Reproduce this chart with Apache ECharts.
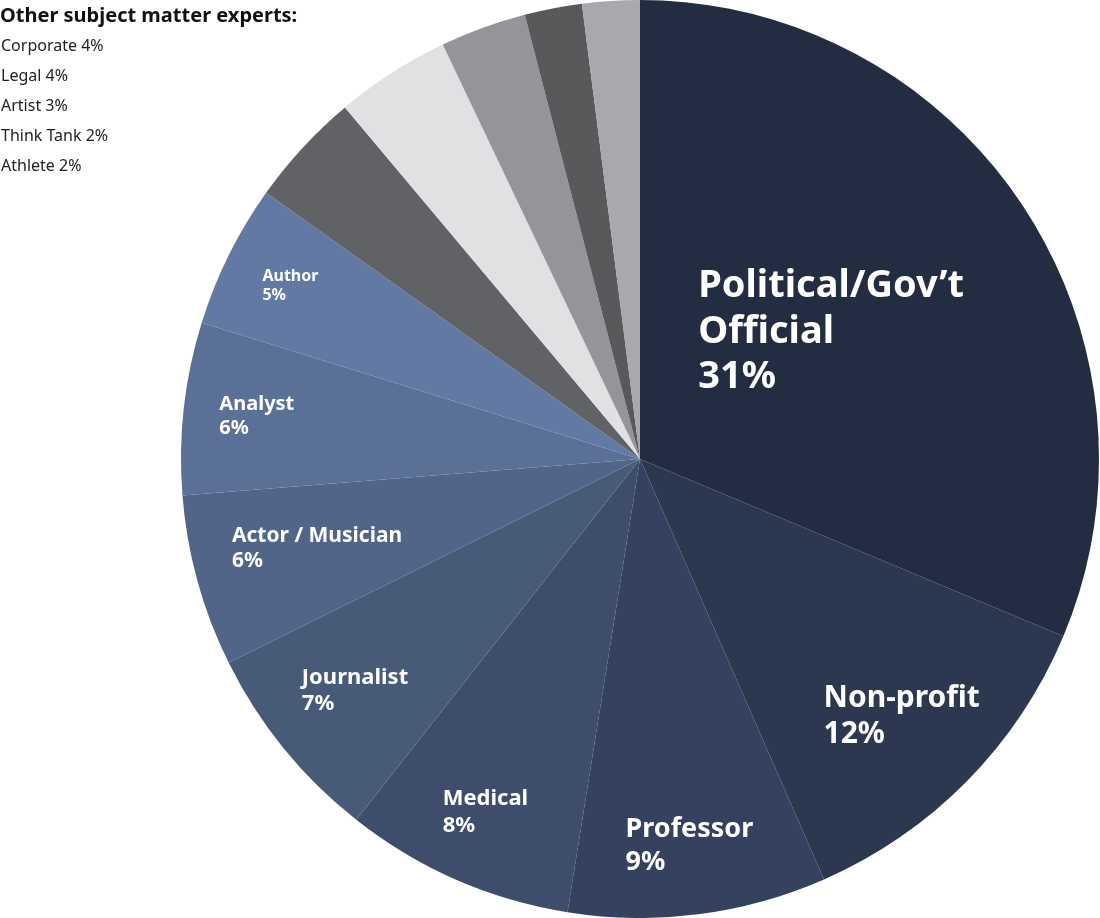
<!DOCTYPE html>
<html><head><meta charset="utf-8">
<script src="https://cdn.jsdelivr.net/npm/echarts@6/dist/echarts.min.js"></script>
<style>html,body{margin:0;padding:0;background:#fff}#c{width:1100px;height:918px}</style>
</head><body><div id="c"></div>
<script>
const categories = ['Political/Gov\u2019t\nOfficial','Non-profit','Professor','Medical','Journalist','Actor / Musician','Analyst','Author','Corporate','Legal','Artist','Think Tank','Athlete'];
const values = [31,12,9,8,7,6,6,5,4,4,3,2,2];
const showLabel = [true,true,true,true,true,true,true,true,false,false,false,false,false];
const otherTitle = 'Other subject matter experts:';
const otherItems = ['Corporate 4%','Legal 4%','Artist 3%','Think Tank 2%','Athlete 2%'];

const colors = ['#232d42','#2b3850','#344260','#3d4d6b','#475a78','#506587','#5a7096','#6179a3','#616265','#e0e1e3','#939598','#58595b','#a7a9ac'];
const fontSizes = [38,30,27,22,22,21,20,16];
const radFactor = [0.5,0.8,0.85,0.84,0.8,0.73,0.84,0.85];
const CX = 640, CY = 459, R = 459;
const total = values.reduce((a,b)=>a+b,0);

const chart = echarts.init(document.getElementById('c'));
chart.setOption({
  animation:false,
  graphic:[
    {type:'text',left:0,top:6,style:{text:otherTitle,font:'bold 20px "Noto Sans"',fill:'#111'}},
    ...otherItems.map((t,i)=>({type:'text',left:1,top:38+i*30,style:{text:t,font:'16px "Noto Sans"',fill:'#222'}}))
  ],
  series:[{
    type:'pie',center:[CX,CY],radius:[0,R],startAngle:90,clockwise:true,
    itemStyle:{borderColor:'#fff',borderWidth:0},
    label:{show:false},labelLine:{show:false},
    data:categories.map((c,i)=>({name:c,value:values[i],itemStyle:{color:colors[i]},
      label:{show:showLabel[i],position:'inside',color:'#fff',fontWeight:'bold',fontFamily:'"Noto Sans"',
        fontSize:fontSizes[i],lineHeight:fontSizes[i]*1.2,align:'left',
        formatter:p=>p.name+'\n'+p.value+'%'}})),
    labelLayout:function(p){
      const i=p.dataIndex;
      let cum=0;for(let k=0;k<i;k++)cum+=values[k];
      const mid=(cum+values[i]/2)/total*2*Math.PI;
      const r=R*radFactor[i];
      const cx=CX+r*Math.sin(mid), cy=CY-r*Math.cos(mid);
      return {x:cx-p.labelRect.width/2,y:cy,align:'left',verticalAlign:'middle'};
    }
  }]
});
</script></body></html>
